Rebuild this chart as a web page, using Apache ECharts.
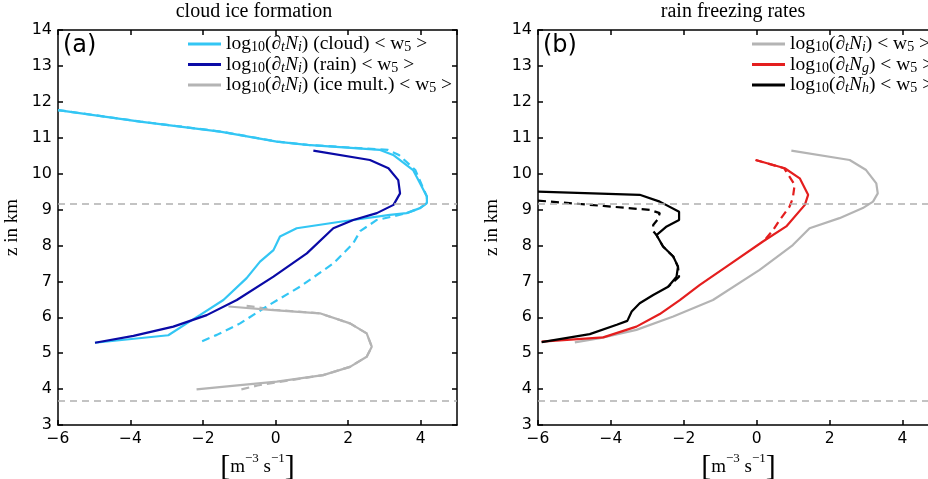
<!DOCTYPE html>
<html><head><meta charset="utf-8">
<script src="https://cdn.jsdelivr.net/npm/echarts@6/dist/echarts.min.js"></script>
<style>html,body{margin:0;padding:0;background:#fff}#c{width:928px;height:479px}</style>
</head><body><div id="c"></div>
<script>
// ---------- data (x = log10 rate, z = height in km) ----------
var xTicks = [-6, -4, -2, 0, 2, 4];
var refLevels = [9.15, 3.68];

var cloudZ = [11.77, 11.45, 11.17, 10.89, 10.8, 10.66, 10.52, 10.1, 9.36, 9.18, 9.04, 8.9, 8.85, 8.66, 8.48, 8.25, 7.87, 7.55, 7.09, 6.48, 6.06, 5.83, 5.5, 5.29];
var cloudX = [-6, -3.74, -1.53, 0.03, 0.86, 2.88, 3.24, 3.79, 4.17, 4.17, 3.98, 3.61, 3.15, 1.78, 0.58, 0.12, -0.06, -0.43, -0.8, -1.44, -2.09, -2.45, -2.96, -4.98];
var cloudDashZ = [11.77, 11.45, 11.17, 10.89, 10.8, 10.66, 10.52, 10.1, 9.36, 9.18, 9.04, 8.9, 8.8, 8.71, 8.4, 8.06, 7.5, 6.85, 6.3, 5.83, 5.51, 5.29];
var cloudDashX = [-6, -3.72, -1.5, 0.05, 0.9, 3.1, 3.4, 3.85, 4.17, 4.17, 3.98, 3.61, 3.2, 2.79, 2.33, 2.14, 1.59, 0.67, -0.25, -0.98, -1.62, -2.13];
var rainZ = [10.64, 10.38, 10.15, 9.82, 9.45, 9.13, 8.9, 8.71, 8.48, 7.78, 7.13, 6.48, 6.06, 5.74, 5.48, 5.29];
var rainX = [1.04, 2.6, 3.11, 3.38, 3.43, 3.25, 2.79, 2.14, 1.59, 0.86, -0.06, -1.07, -1.9, -2.82, -3.92, -4.98];
var multZ = [6.3, 6.2, 6.11, 5.83, 5.55, 5.18, 4.9, 4.62, 4.39, 4.21, 4.11, 3.99];
var multX = [-1.3, -0.06, 1.22, 2.05, 2.51, 2.65, 2.51, 2.05, 1.31, 0.03, -0.98, -2.18];
var multDashZ = [6.32, 6.21, 6.11, 5.83, 5.55, 5.18, 4.9, 4.62, 4.39, 4.19, 4.1, 3.98];
var multDashX = [-0.8, -0.06, 1.22, 2.05, 2.51, 2.65, 2.51, 2.05, 1.31, 0.03, -0.5, -1.0];

var niZ = [10.64, 10.38, 10.1, 9.73, 9.45, 9.22, 9.04, 8.76, 8.48, 8.01, 7.32, 6.48, 6.02, 5.65, 5.42, 5.3];
var niX = [0.95, 2.55, 3.0, 3.28, 3.32, 3.19, 2.91, 2.27, 1.45, 0.99, 0.08, -1.2, -2.29, -3.3, -4.3, -4.99];
var ngZ = [10.38, 10.15, 9.87, 9.41, 9.13, 8.53, 8.11, 7.41, 6.9, 6.48, 6.09, 5.74, 5.44, 5.32];
var ngX = [-0.03, 0.77, 1.18, 1.41, 1.32, 0.81, 0.17, -0.83, -1.56, -2.11, -2.66, -3.3, -4.21, -5.9];
var ngDashZ = [10.38, 10.15, 9.69, 9.32, 9.08, 8.71, 8.43, 8.2, 8.11];
var ngDashX = [-0.03, 0.75, 1.04, 0.99, 0.9, 0.63, 0.45, 0.26, 0.17];
var nhZ = [9.5, 9.41, 9.22, 8.94, 8.71, 8.53, 8.29, 7.97, 7.69, 7.41, 7.13, 6.85, 6.62, 6.39, 6.16, 5.9, 5.79, 5.53, 5.31];
var nhX = [-6, -3.21, -2.66, -2.13, -2.13, -2.47, -2.75, -2.57, -2.29, -2.16, -2.2, -2.43, -2.84, -3.21, -3.43, -3.55, -3.84, -4.58, -5.9];
var nhDashZ = [9.25, 9.1, 8.99, 8.9, 8.72, 8.57, 8.4, 8.29, 7.97, 7.69, 7.41, 7.13, 6.85];
var nhDashX = [-6, -4.21, -2.93, -2.66, -2.72, -2.84, -2.84, -2.75, -2.57, -2.29, -2.16, -2.13, -2.43];

var legendA = ['cloud', 'rain', 'ice mult.'];
var legendB = ['i', 'g', 'h'];

// ---------- helpers ----------
function pts(xs, zs) { return xs.map(function (x, k) { return [x, zs[k]]; }); }
var C_CYAN = '#33c6f4', C_BLUE = '#0a0aa6', C_GRAY = '#b4b4b4', C_RED = '#e41e1e', C_BLACK = '#000000';
var SERIF = '"Liberation Serif", "DejaVu Serif", serif';
var SANS = '"DejaVu Sans", sans-serif';

function line(name, xs, zs, color, dashed, gi) {
  return {
    name: name, type: 'line', data: pts(xs, zs), xAxisIndex: gi * 2, yAxisIndex: gi * 2,
    showSymbol: false, symbol: 'none', smooth: false, animation: false, silent: true,
    lineStyle: { color: color, width: 2.2, type: dashed ? [8, 5] : 'solid' },
    itemStyle: { color: color }, z: dashed ? 2 : 3
  };
}
function refLine(gi) {
  return {
    name: 'ref' + gi, type: 'line', data: [], xAxisIndex: gi * 2, yAxisIndex: gi * 2, silent: true, animation: false,
    markLine: {
      symbol: 'none', silent: true, animation: false, label: { show: false },
      lineStyle: { color: '#b0b0b0', width: 1.5, type: [7, 5] },
      data: refLevels.map(function (v) { return { yAxis: v }; })
    }
  };
}
var rich = {
  r: { fontFamily: SERIF, fontSize: 19.5, color: '#000', lineHeight: 21 },
  it: { fontFamily: SERIF, fontSize: 19.5, fontStyle: 'italic', color: '#000', lineHeight: 21 },
  s: { fontFamily: SERIF, fontSize: 14, color: '#000', verticalAlign: 'bottom', lineHeight: 15 },
  si: { fontFamily: SERIF, fontSize: 14, fontStyle: 'italic', color: '#000', verticalAlign: 'bottom', lineHeight: 15 }
};
function labA(tag) { return '{r|log}{s|10}{r|(∂}{si|t}{it|N}{si|i}{r|) (' + tag + ') < w}{s|5}{r| >}'; }
function labB(sub) { return '{r|log}{s|10}{r|(∂}{si|t}{it|N}{si|' + sub + '}{r|) < w}{s|5}{r| >}'; }

function xAx(gi, top) {
  return {
    type: 'value', gridIndex: gi, position: top ? 'top' : 'bottom', min: -6, max: 5, interval: 2,
    axisLine: { show: true, onZero: false, lineStyle: { color: '#000', width: 1.5 } },
    axisTick: { show: true, inside: true, length: 5, lineStyle: { color: '#000', width: 1.5 } },
    axisLabel: { show: !top, showMaxLabel: false, color: '#000', fontFamily: SANS, fontSize: 15.5, margin: 6,
      formatter: function (v) { return xTicks.indexOf(v) >= 0 ? String(v).replace('-', '\u2212') : ''; } },
    splitLine: { show: false },
    name: top ? '' : '{b|[}{t|m}{p|−3}{t| s}{p|−1}{b|]}', nameLocation: 'middle', nameGap: 20,
    nameTextStyle: { rich: {
      b: { fontFamily: SERIF, fontSize: 30, color: '#000', fontWeight: 'lighter' },
      t: { fontFamily: SERIF, fontSize: 19, color: '#000', lineHeight: 30 },
      p: { fontFamily: SERIF, fontSize: 13, color: '#000', verticalAlign: 'top', lineHeight: 30 } } }
  };
}
function yAx(gi, right) {
  return {
    type: 'value', gridIndex: gi, position: right ? 'right' : 'left', min: 3, max: 14, interval: 1,
    axisLine: { show: true, onZero: false, lineStyle: { color: '#000', width: 1.5 } },
    axisTick: { show: true, inside: true, length: 5, lineStyle: { color: '#000', width: 1.5 } },
    axisLabel: { show: !right, color: '#000', fontFamily: SANS, fontSize: 16, margin: 6 },
    splitLine: { show: false },
    name: right ? '' : 'z in km', nameLocation: 'middle', nameGap: 36,
    nameTextStyle: { fontFamily: SERIF, fontSize: 19, color: '#000' }
  };
}

var chart = echarts.init(document.getElementById('c'), null, { renderer: 'canvas' });
chart.setOption({
  backgroundColor: '#fff',
  animation: false,
  grid: [
    { left: 58, top: 30, width: 399, height: 395, outerBoundsMode: 'none', containLabel: false },
    { left: 538, top: 30, width: 401, height: 395, outerBoundsMode: 'none', containLabel: false }
  ],
  xAxis: [xAx(0, false), xAx(0, true), xAx(1, false), xAx(1, true)],
  yAxis: [yAx(0, false), yAx(0, true), yAx(1, false), yAx(1, true)],
  legend: [
    { data: legendA.map(function (t) { return 'A:' + t; }), orient: 'vertical', left: 183, top: 29, itemGap: 0,
      itemWidth: 33, itemHeight: 3, icon: 'rect', selectedMode: false,
      formatter: function (n) { return labA(n.slice(2)); }, textStyle: { rich: rich } },
    { data: legendB.map(function (t) { return 'B:' + t; }), orient: 'vertical', left: 747, top: 29, itemGap: 0,
      itemWidth: 33, itemHeight: 3, icon: 'rect', selectedMode: false,
      formatter: function (n) { return labB(n.slice(2)); }, textStyle: { rich: rich } }
  ],
  graphic: [
    { type: 'text', x: 254, y: 2, style: { text: 'cloud ice formation', font: '20px ' + SERIF, fill: '#000', textAlign: 'center' } },
    { type: 'text', x: 733, y: 2, style: { text: 'rain freezing rates', font: '20px ' + SERIF, fill: '#000', textAlign: 'center' } },
    { type: 'text', left: 63, top: 34, style: { text: '(a)', font: '24px ' + SANS, fill: '#000' } },
    { type: 'text', left: 543, top: 34, style: { text: '(b)', font: '24px ' + SANS, fill: '#000' } }
  ],
  series: [
    refLine(0), refLine(1),
    line('A:ice mult. dash', multDashX, multDashZ, C_GRAY, true, 0),
    line('A:ice mult.', multX, multZ, C_GRAY, false, 0),
    line('A:cloud dash', cloudDashX, cloudDashZ, C_CYAN, true, 0),
    line('A:cloud', cloudX, cloudZ, C_CYAN, false, 0),
    line('A:rain', rainX, rainZ, C_BLUE, false, 0),
    line('B:i', niX, niZ, C_GRAY, false, 1),
    line('B:g dash', ngDashX, ngDashZ, C_RED, true, 1),
    line('B:g', ngX, ngZ, C_RED, false, 1),
    line('B:h dash', nhDashX, nhDashZ, C_BLACK, true, 1),
    line('B:h', nhX, nhZ, C_BLACK, false, 1)
  ]
});
</script></body></html>
